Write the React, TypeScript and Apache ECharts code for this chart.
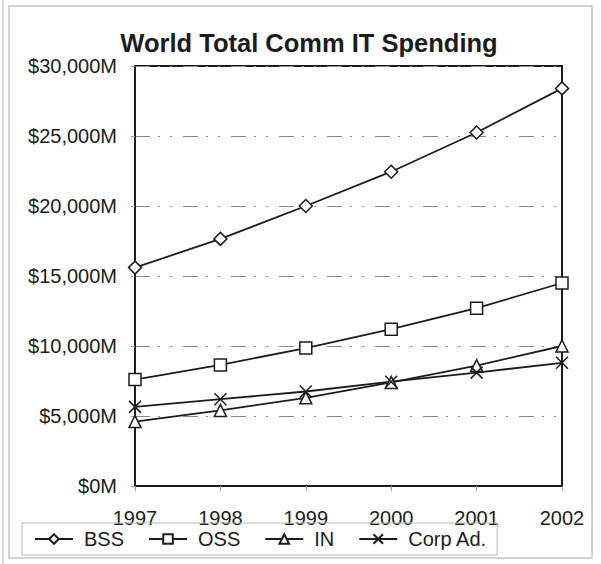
import React, { useEffect, useRef } from "react";
import * as echarts from "echarts";

const years = ["1997", "1998", "1999", "2000", "2001", "2002"];
const bss = [15600, 17650, 20000, 22450, 25250, 28400];
const oss = [7600, 8650, 9850, 11200, 12700, 14500];
const inSeries = [4600, 5400, 6300, 7400, 8600, 10000];
const corpAd = [5650, 6200, 6750, 7450, 8100, 8800];
const yTicks = { min: 0, max: 30000, interval: 5000 };

const FONT = "'Liberation Sans', Arial, sans-serif";
const INK = "#1c1c1c";

export default function App() {
  const ref = useRef<HTMLDivElement>(null);
  useEffect(() => {
    if (!ref.current) return;
    const chart = echarts.init(ref.current, undefined, { renderer: "svg" });
    const marker = {
      color: "#ffffff",
      borderColor: INK,
      borderWidth: 1.5,
    };
    const mk = (name: string, data: number[], symbol: string, size: number) => ({
      name,
      type: "line",
      data,
      symbol,
      symbolSize: size,
      showAllSymbol: true,
      lineStyle: { color: INK, width: 1.8 },
      itemStyle: marker,
      emphasis: { disabled: true },
    });
    chart.setOption({
      animation: false,
      backgroundColor: "#ffffff",
      textStyle: { fontFamily: FONT, color: INK },
      title: {
        text: "World Total Comm IT Spending",
        left: 304,
        textAlign: "center",
        top: 25,
        textStyle: { fontFamily: FONT, fontWeight: "bold", fontSize: 25.5, color: INK },
      },
      graphic: [
        {
          type: "rect",
          shape: { x: 9, y: 6, width: 583, height: 552 },
          style: { fill: "none", stroke: "#c4c4c4", lineWidth: 1.5 },
          silent: true,
        },
        {
          type: "line",
          shape: { x1: 3, y1: 0, x2: 3, y2: 564 },
          style: { stroke: "#cccccc", lineWidth: 1.5 },
          silent: true,
        },
      ],
      grid: {
        left: 135,
        right: 39,
        top: 66,
        bottom: 78,
        show: true,
        borderColor: INK,
        borderWidth: 2,
        backgroundColor: "transparent",
      },
      legend: {
        left: 22,
        top: 523,
        orient: "horizontal",
        padding: [6, 10, 6, 12],
        itemGap: 24,
        itemWidth: 38,
        itemHeight: 12,
        borderColor: "#b8b8b8",
        borderWidth: 1,
        backgroundColor: "transparent",
        textStyle: { fontFamily: FONT, fontSize: 20, color: INK, padding: [0, 0, 0, 6] },
        data: ["BSS", "OSS", "IN", "Corp Ad."],
      },
      xAxis: {
        type: "category",
        data: years,
        boundaryGap: false,
        axisLine: { lineStyle: { color: INK, width: 2 } },
        axisTick: { show: true, length: 5, lineStyle: { color: "#999" } },
        axisLabel: { fontFamily: FONT, fontSize: 20, color: INK, margin: 22 },
        splitLine: { show: false },
      },
      yAxis: {
        type: "value",
        min: yTicks.min,
        max: yTicks.max,
        interval: yTicks.interval,
        axisLine: { show: true, lineStyle: { color: INK, width: 2 } },
        axisTick: { show: true, length: 4, lineStyle: { color: "#999" } },
        axisLabel: {
          fontFamily: FONT,
          fontSize: 20,
          color: INK,
          margin: 18,
          formatter: (v: number) => "$" + v.toLocaleString("en-US") + "M",
        },
        splitLine: {
          show: true,
          lineStyle: { color: "#8a8a8a", width: 1, type: [15, 8, 2, 10, 2, 11] },
        },
      },
      series: [
        mk("BSS", bss, "diamond", 13),
        mk("OSS", oss, "rect", 12),
        mk("IN", inSeries, "triangle", 12),
        mk("Corp Ad.", corpAd, "path://M0,0L10,10M10,0L0,10", 12),
      ],
    });
    return () => chart.dispose();
  }, []);
  return (
    <div
      ref={ref}
      style={{ position: "absolute", left: 0, top: 0, width: 601, height: 564 }}
    />
  );
}
